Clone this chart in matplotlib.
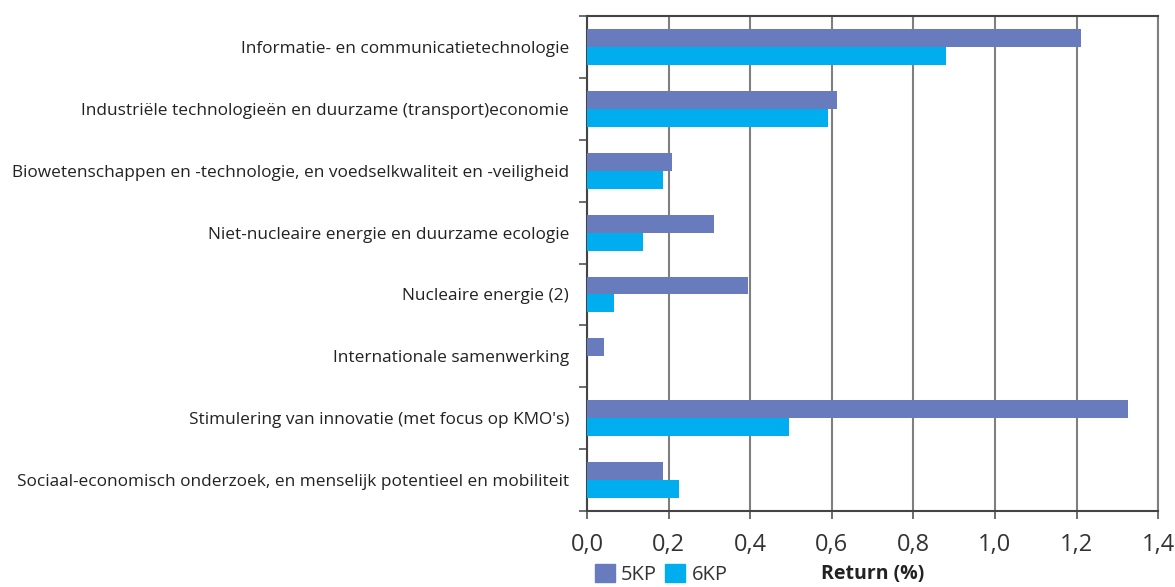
import numpy as np
import matplotlib.pyplot as plt
from matplotlib.patches import Patch

plt.rcParams['font.family'] = ['Open Sans', 'DejaVu Sans']

categories = [
    "Informatie- en communicatietechnologie",
    "Industriële technologieën en duurzame (transport)economie",
    "Biowetenschappen en -technologie, en voedselkwaliteit en -veiligheid",
    "Niet-nucleaire energie en duurzame ecologie",
    "Nucleaire energie (2)",
    "Internationale samenwerking",
    "Stimulering van innovatie (met focus op KMO's)",
    "Sociaal-economisch onderzoek, en menselijk potentieel en mobiliteit",
]
kp5 = [1.21, 0.613, 0.208, 0.311, 0.395, 0.042, 1.327, 0.186]
kp6 = [0.88, 0.59, 0.186, 0.137, 0.066, 0.0, 0.495, 0.226]
xticks = [0.0, 0.2, 0.4, 0.6, 0.8, 1.0, 1.2, 1.4]

c5 = '#677bbd'
c6 = '#00aeef'

fig = plt.figure(figsize=(11.75, 5.87), dpi=100)
ax = fig.add_axes([0.4996, 0.1295, 0.486, 0.843])

n = len(categories)
y = np.arange(n)[::-1]  # first category on top
h = 0.29
ax.barh(y + h / 2, kp5, height=h, color=c5, zorder=3)
ax.barh(y - h / 2, kp6, height=h, color=c6, zorder=3)

ax.set_xlim(0, 1.4)
ax.set_ylim(-0.5, n - 0.5)
ax.set_xticks(xticks)
ax.set_xticklabels([f"{v:.1f}".replace('.', ',') for v in xticks], fontsize=17, color='#333333')
ax.set_yticks(np.arange(n + 1) - 0.5)
ax.set_yticklabels([])
ax.set_yticks(y, minor=True)
ax.set_yticklabels(categories, minor=True, fontsize=12.4, color='#222222')
ax.tick_params(axis='y', which='minor', length=0, pad=13)
ax.tick_params(axis='y', which='major', length=6, width=1.2, color='#555555')
ax.tick_params(axis='x', length=6, width=1.2, color='#555555', pad=10)

ax.grid(axis='x', color='#7f7f7f', linewidth=1.5, zorder=0)
for s in ['left', 'bottom', 'top']:
    ax.spines[s].set_color('#444444')
    ax.spines[s].set_linewidth(1.5)
ax.spines['right'].set_color('#7f7f7f')
ax.spines['right'].set_linewidth(1.5)

ax.set_xlabel("Return (%)", fontsize=14, fontweight='bold', color='#222222', labelpad=5)

handles = [Patch(color=c5, label='5KP'), Patch(color=c6, label='6KP')]
fig.legend(handles=handles, loc='lower left', bbox_to_anchor=(0.491, -0.028), ncol=2,
           frameon=False, fontsize=14.5, handlelength=1.0, handleheight=1.0,
           handletextpad=0.3, columnspacing=0.4, labelcolor='#333333')

fig.savefig('out.png', dpi=100)
